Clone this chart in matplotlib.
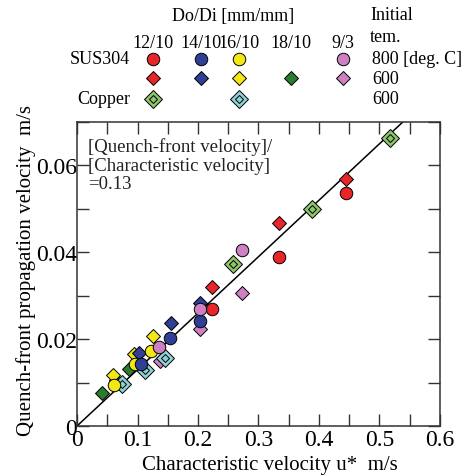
import matplotlib
matplotlib.use("Agg")
import matplotlib.pyplot as plt
import numpy as np

plt.rcParams['font.family'] = ['Liberation Serif', 'DejaVu Serif']

# colours of the Do/Di series
red = '#e8262a'
blue = '#2f3f95'
yellow = '#f4e814'
green = '#2b7b30'
pink = '#cd80c2'
cu_green = '#8cc56a'
cu_cyan = '#8fd2d6'

# SUS304, initial temperature 800 deg C (circles)
s800_12_x = [0.223, 0.334, 0.445]
s800_12_y = [0.0269, 0.0389, 0.0537]
s800_14_x = [0.105, 0.153, 0.203]
s800_14_y = [0.0143, 0.0203, 0.0242]
s800_16_x = [0.061, 0.096, 0.123]
s800_16_y = [0.0095, 0.0142, 0.0173]
s800_93_x = [0.135, 0.203, 0.272]
s800_93_y = [0.0181, 0.0269, 0.0405]

# SUS304, initial temperature 600 deg C (diamonds)
s600_12_x = [0.223, 0.334, 0.445]
s600_12_y = [0.0319, 0.0468, 0.0568]
s600_14_x = [0.103, 0.155, 0.203]
s600_14_y = [0.0169, 0.0237, 0.0284]
s600_16_x = [0.060, 0.095, 0.126]
s600_16_y = [0.0118, 0.0165, 0.0207]
s600_18_x = [0.042, 0.064, 0.086]
s600_18_y = [0.0076, 0.0106, 0.0131]
s600_93_x = [0.137, 0.204, 0.272]
s600_93_y = [0.0149, 0.0223, 0.0306]

# Copper, initial temperature 600 deg C (double diamonds)
cu_12_x = [0.258, 0.389, 0.517]
cu_12_y = [0.0373, 0.0500, 0.0664]
cu_16_x = [0.074, 0.112, 0.146]
cu_16_y = [0.0097, 0.0128, 0.0157]

ratio = 0.13

fig = plt.figure(figsize=(4.73, 4.77), dpi=100)
ax = fig.add_axes([0.1628, 0.1048, 0.7674, 0.6372])

ms_circle = 9.0
ms_diam = 6.8
ms_cu = 8.8


def diamonds(x, y, c):
    ax.plot(x, y, 'D', ms=ms_diam, mfc=c, mec='k', mew=0.7, zorder=3)


def circles(x, y, c):
    ax.plot(x, y, 'o', ms=ms_circle, mfc=c, mec='k', mew=0.7, zorder=4)


def copper(a, x, y, c):
    a.plot(x, y, 'D', ms=ms_cu, mfc=c, mec='k', mew=0.7, zorder=3)
    a.plot(x, y, 'D', ms=ms_cu * 0.5, mfc=c, mec='k', mew=0.7, zorder=3)


# fitted line
xl = np.array([0.0, 0.07 / ratio])
ax.plot(xl, ratio * xl, color='k', lw=1.1, zorder=2)

diamonds(s600_18_x, s600_18_y, green)
diamonds(s600_16_x, s600_16_y, yellow)
diamonds(s600_14_x, s600_14_y, blue)
diamonds(s600_12_x, s600_12_y, red)
diamonds(s600_93_x, s600_93_y, pink)
copper(ax, cu_12_x, cu_12_y, cu_green)
copper(ax, cu_16_x, cu_16_y, cu_cyan)
circles(s800_16_x, s800_16_y, yellow)
circles(s800_14_x, s800_14_y, blue)
circles(s800_12_x, s800_12_y, red)
circles(s800_93_x, s800_93_y, pink)

ax.set_xlim(0, 0.6)
ax.set_ylim(0, 0.07)
ax.set_xticks(np.arange(0, 0.61, 0.1))
ax.set_xticklabels(['0', '0.1', '0.2', '0.3', '0.4', '0.5', '0.6'])
ax.set_xticks(np.arange(0.05, 0.6, 0.1), minor=True)
ax.set_yticks([0, 0.02, 0.04, 0.06])
ax.set_yticklabels(['0', '0.02', '0.04', '0.06'])
ax.set_yticks([0.01, 0.03, 0.05, 0.07], minor=True)
ax.tick_params(which='both', direction='in', length=8.5, width=1.0,
               top=True, right=True, labelsize=17, color='#333333')
ax.tick_params(axis='y', pad=0)
ax.tick_params(axis='x', pad=2)
for s in ax.spines.values():
    s.set_linewidth(1.1)
    s.set_color('#333333')

ax.set_xlabel('Characteristic velocity u*  m/s', fontsize=15, labelpad=4,
              x=0.532)
ax.set_ylabel('Quench-front propagation velocity  m/s', fontsize=15,
              labelpad=0, y=0.516)

ax.text(0.03, 0.95, '[Quench-front velocity]/\n[Characteristic velocity]\n=0.13',
        transform=ax.transAxes, fontsize=13.5, va='top', ha='left',
        linespacing=1.12, color='#222222')

# legend drawn in figure pixel coordinates
lg = fig.add_axes([0, 0, 1, 1])
lg.set_xlim(0, 473)
lg.set_ylim(477, 0)
lg.axis('off')
lg.patch.set_alpha(0)

col_x = [153, 201, 239, 291, 343]
col_lbl = ['12/10', '14/10', '16/10', '18/10', '9/3']
row_y = [60, 79, 100]
fs = 13

lg.text(233, 16, 'Do/Di [mm/mm]', ha='center', va='center', fontsize=fs)
for cx, t in zip(col_x, col_lbl):
    lg.text(cx, 43, t, ha='center', va='center', fontsize=fs)
lg.text(370, 16, 'Initial', ha='left', va='center', fontsize=fs)
lg.text(370, 38, 'tem.', ha='left', va='center', fontsize=fs)
lg.text(130, row_y[0], 'SUS304', ha='right', va='center', fontsize=fs)
lg.text(130, row_y[2], 'Copper', ha='right', va='center', fontsize=fs)
lg.text(372, row_y[0], '800 [deg. C]', ha='left', va='center', fontsize=fs)
lg.text(372, row_y[1], '600', ha='left', va='center', fontsize=fs)
lg.text(372, row_y[2], '600', ha='left', va='center', fontsize=fs)

for cx, c in zip([col_x[0], col_x[1], col_x[2], col_x[4]], [red, blue, yellow, pink]):
    lg.plot([cx], [row_y[0]], 'o', ms=ms_circle, mfc=c, mec='k', mew=0.7)
for cx, c in zip(col_x, [red, blue, yellow, green, pink]):
    lg.plot([cx], [row_y[1]], 'D', ms=ms_diam, mfc=c, mec='k', mew=0.7)
copper(lg, [col_x[0]], [row_y[2]], cu_green)
copper(lg, [col_x[2]], [row_y[2]], cu_cyan)

fig.savefig('out.png', dpi=100)
